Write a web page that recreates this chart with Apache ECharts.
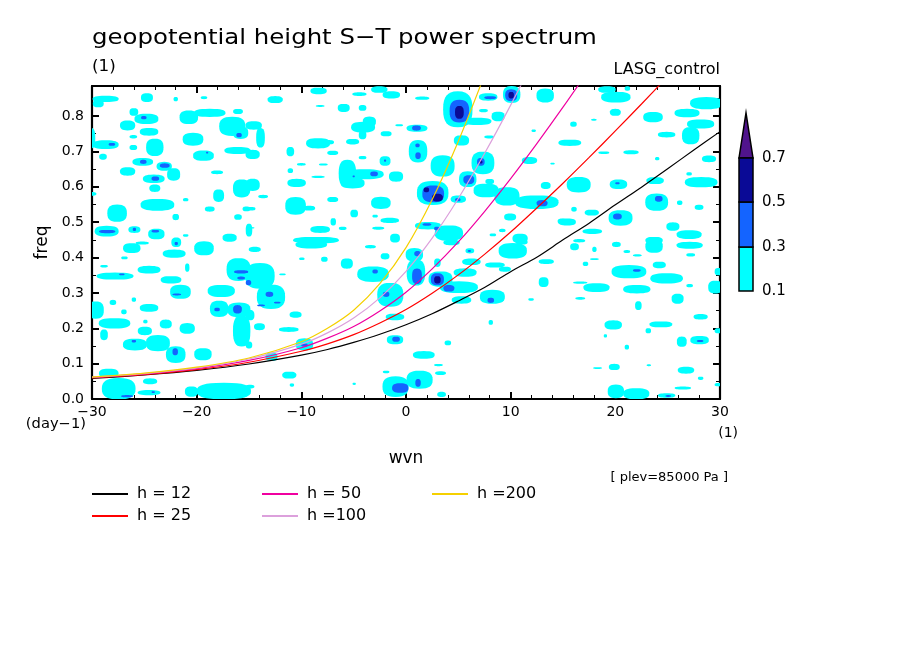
<!DOCTYPE html>
<html><head><meta charset="utf-8">
<script src="https://cdn.jsdelivr.net/npm/echarts@6/dist/echarts.min.js"></script>
<style>html,body{margin:0;padding:0;background:#fff}#c{width:904px;height:654px}</style>
</head><body><div id="c"></div>
<script>
// ---- data ----
const xTickLabels = [-30,-20,-10,0,10,20,30];
const colorLevels = ['0.1','0.3','0.5','0.7'];
const levelColors = ['#00FFFF','#1464FF','#0A0A96','#50148C'];

// dispersion curves [wvn, freq]
const h12 = [[-30,0.058],[-25,0.068],[-20,0.081],[-15,0.099],[-10,0.124],[-7.5,0.140],[-5,0.160],[-2.5,0.183],[0,0.210],[2.5,0.241],[5,0.277],[7.5,0.315],[10,0.360],[12.5,0.401],[15,0.450],[17.5,0.497],[20,0.549],[22.5,0.599],[25,0.651],[27.5,0.704],[30,0.756]];
const h25 = [[-30,0.060],[-25,0.069],[-20,0.083],[-15,0.104],[-10,0.135],[-7.5,0.156],[-5,0.182],[-2.5,0.215],[0,0.253],[2.5,0.299],[5,0.351],[7.5,0.409],[10,0.472],[12.5,0.540],[15,0.610],[17.5,0.683],[20,0.758],[22.5,0.834],[25,0.912]];
const h50 = [[-30,0.061],[-25,0.071],[-20,0.086],[-15,0.109],[-10,0.145],[-7.5,0.172],[-5,0.205],[-2.5,0.249],[0,0.302],[2.5,0.368],[5,0.444],[7.5,0.530],[10,0.623],[12.5,0.722],[15,0.825],[17.5,0.932]];
const h100 = [[-30,0.062],[-25,0.072],[-20,0.088],[-15,0.113],[-10,0.155],[-7.5,0.187],[-5,0.229],[-2.5,0.286],[0,0.361],[2.5,0.455],[5,0.567],[7.5,0.694],[10,0.831],[12.5,0.976]];
const h200 = [[-30,0.062],[-25,0.073],[-20,0.090],[-15,0.116],[-10,0.162],[-7.5,0.200],[-5,0.251],[-2.5,0.326],[0,0.428],[2.5,0.564],[5,0.729],[7.5,0.916],[10,1.117]];

// power regions [wvnFrom, wvnTo, freqFrom, freqTo]
const cyanCells = [
[-29.9,-27.5,0.84,0.857],[-29.9,-28.9,0.825,0.845],[-25.3,-24.2,0.84,0.864],[-22.2,-21.8,0.842,0.854],[-19.6,-19.0,0.848,0.856],
[-26.4,-25.6,0.801,0.822],[-21.6,-19.9,0.778,0.815],[-20.2,-17.3,0.798,0.82],[-16.5,-15.6,0.806,0.82],[-25.9,-23.7,0.778,0.806],
[-27.3,-25.9,0.76,0.787],[-17.8,-15.4,0.745,0.797],[-16.5,-15.1,0.736,0.77],[-25.4,-23.7,0.745,0.766],[-21.3,-19.4,0.717,0.752],
[-26.4,-25.7,0.737,0.746],[-30.4,-29.7,0.71,0.765],[-29.9,-27.5,0.707,0.731],[-24.8,-23.2,0.688,0.735],[-26.4,-25.7,0.704,0.718],
[-20.3,-18.4,0.674,0.702],[-17.3,-14.9,0.693,0.712],[-29.3,-28.6,0.677,0.693],[-26.1,-24.2,0.66,0.681],[-23.8,-22.4,0.646,0.67],
[-22.8,-21.6,0.618,0.652],[-27.3,-25.9,0.632,0.655],[-18.6,-17.5,0.636,0.646],[-25.1,-23.1,0.611,0.634],[-24.5,-23.5,0.586,0.606],
[-16.5,-14.9,0.571,0.62],[-30.4,-29.6,0.575,0.585],[-18.4,-17.4,0.558,0.592],[-25.3,-22.2,0.533,0.565],[-21.3,-20.8,0.559,0.568],
[-19.2,-18.3,0.53,0.544],[-15.6,-14.9,0.531,0.544],[-28.5,-26.7,0.502,0.549],[-22.3,-21.7,0.506,0.523],[-16.4,-15.7,0.507,0.522],
[-29.7,-27.5,0.46,0.489],[-26.5,-25.4,0.47,0.488],[-24.6,-23.1,0.452,0.481],[-17.5,-16.2,0.445,0.467],[-22.4,-21.5,0.43,0.456],
[-21.3,-20.8,0.459,0.466],[-15.3,-14.7,0.46,0.495],[-25.8,-24.6,0.437,0.445],
[-9.1,-7.6,0.862,0.88],[-3.3,-1.8,0.866,0.884],[-2.2,-0.6,0.85,0.87],[-5.1,-3.8,0.857,0.867],[-13.2,-11.8,0.837,0.856],
[-8.6,-7.8,0.826,0.831],[-6.5,-5.4,0.812,0.834],[-4.5,-3.8,0.815,0.831],[-4.1,-2.9,0.77,0.798],[-5.2,-3.0,0.754,0.783],
[-4.5,-3.8,0.735,0.758],[-15.3,-13.8,0.762,0.785],[-14.3,-13.5,0.712,0.765],[-1.0,-0.3,0.771,0.777],[-2.4,-1.4,0.743,0.757],
[-9.5,-7.3,0.709,0.737],[-8.0,-6.9,0.72,0.732],[-5.7,-4.5,0.72,0.735],[-11.4,-10.7,0.687,0.712],[-7.5,-6.5,0.69,0.702],
[-15.3,-14.0,0.679,0.704],[-4.5,-3.8,0.678,0.687],[-2.5,-1.5,0.66,0.686],[-10.4,-9.6,0.66,0.667],[-8.3,-7.5,0.66,0.666],
[-11.3,-10.8,0.639,0.652],[-6.4,-4.8,0.6,0.675],[-5.7,-2.2,0.622,0.649],[-6.2,-4.0,0.596,0.625],[-1.6,-0.3,0.615,0.643],
[-15.3,-14.0,0.589,0.622],[-11.3,-9.6,0.6,0.622],[-9.0,-7.8,0.625,0.631],[-14.1,-13.2,0.568,0.577],[-11.5,-9.6,0.522,0.57],
[-9.8,-8.7,0.533,0.546],[-7.5,-6.5,0.557,0.571],[-3.3,-1.5,0.538,0.571],[-15.3,-14.4,0.533,0.543],[-5.3,-4.6,0.514,0.535],
[-3.2,-2.7,0.513,0.521],[-2.4,-0.7,0.498,0.512],[-7.2,-6.7,0.491,0.511],[-9.1,-7.3,0.47,0.489],[-6.4,-5.7,0.478,0.487],
[-3.2,-2.1,0.479,0.487],[-15.1,-14.5,0.482,0.486],[-1.5,-0.6,0.443,0.467],[-10.7,-6.5,0.44,0.458],[-10.5,-7.6,0.426,0.447],
[0.9,2.2,0.846,0.855],[3.6,6.3,0.77,0.868],[5.5,8.1,0.775,0.795],[8.2,9.4,0.786,0.812],[7.0,8.7,0.844,0.864],
[9.3,10.9,0.838,0.884],[12.5,14.1,0.839,0.877],[0.1,2.0,0.756,0.775],[0.3,2.0,0.67,0.731],[4.6,6.0,0.717,0.745],
[2.4,4.6,0.63,0.688],[6.3,8.4,0.637,0.698],[5.1,6.7,0.6,0.643],[7.6,8.4,0.608,0.622],[12.9,13.8,0.594,0.613],
[1.1,4.0,0.55,0.615],[4.3,5.7,0.555,0.575],[6.5,8.8,0.571,0.608],[8.5,10.8,0.548,0.598],[10.5,14.5,0.538,0.575],
[9.4,10.5,0.505,0.524],[14.5,15.3,0.495,0.51],[0.9,3.3,0.48,0.5],[2.8,5.4,0.448,0.49],[10.2,11.6,0.441,0.467],
[8.0,8.6,0.46,0.468],[8.9,9.5,0.472,0.481],[7.5,8.4,0.737,0.745],[12.0,12.4,0.755,0.762],[13.8,14.2,0.663,0.668],
[11.1,12.5,0.665,0.684],[7.0,7.8,0.811,0.82],
[18.4,20.0,0.866,0.884],[18.7,21.4,0.839,0.868],[20.9,21.4,0.872,0.884],[25.7,28.0,0.797,0.82],[27.2,30.2,0.82,0.853],
[19.5,20.5,0.801,0.82],[22.7,24.5,0.783,0.811],[15.7,16.3,0.77,0.784],[17.7,18.2,0.787,0.792],[26.9,29.4,0.765,0.79],
[26.4,28.0,0.721,0.768],[24.1,25.7,0.74,0.755],[14.6,16.7,0.716,0.733],[18.4,19.4,0.693,0.7],[20.8,22.2,0.692,0.703],
[23.8,24.2,0.675,0.684],[26.8,27.3,0.632,0.641],[28.3,29.6,0.67,0.688],[15.4,17.6,0.585,0.627],[19.5,21.1,0.594,0.62],
[23.0,24.6,0.608,0.627],[26.7,29.7,0.599,0.627],[22.9,25.0,0.533,0.58],[25.9,26.4,0.549,0.561],[27.6,28.4,0.535,0.549],
[15.8,16.3,0.53,0.543],[17.1,18.4,0.519,0.535],[19.4,21.6,0.491,0.533],[14.6,16.2,0.491,0.51],[16.9,18.7,0.467,0.481],
[24.9,26.1,0.476,0.499],[25.9,28.2,0.453,0.477],[22.9,24.5,0.439,0.458],[16.0,17.1,0.443,0.452],
[-27.0,-25.4,0.413,0.44],[-23.2,-21.1,0.4,0.422],[-20.2,-18.4,0.407,0.445],[-27.2,-26.6,0.395,0.403],[-29.2,-28.5,0.372,0.379],
[-25.6,-23.5,0.355,0.376],[-21.1,-20.7,0.36,0.383],[-29.5,-26.1,0.338,0.357],[-23.4,-21.5,0.327,0.347],[-17.1,-14.9,0.335,0.397],
[-22.5,-20.6,0.284,0.322],[-18.9,-16.4,0.289,0.322],[-30.4,-28.9,0.228,0.275],[-28.3,-27.7,0.266,0.28],[-27.2,-26.7,0.24,0.253],
[-26.2,-25.8,0.275,0.287],[-25.4,-23.7,0.247,0.268],[-18.7,-17.0,0.233,0.277],[-17.0,-14.9,0.232,0.272],[-16.5,-14.9,0.15,0.235],
[-29.3,-26.4,0.2,0.228],[-29.2,-28.5,0.167,0.196],[-25.1,-24.7,0.214,0.224],[-23.5,-22.4,0.2,0.224],[-21.6,-20.2,0.185,0.214],
[-25.6,-24.3,0.181,0.204],[-27.0,-24.8,0.138,0.17],[-24.8,-22.6,0.136,0.18],[-22.9,-21.1,0.103,0.148],[-20.2,-18.6,0.11,0.143],
[-29.3,-27.5,0.06,0.085],[-29.0,-25.9,0.0,0.058],[-25.1,-23.8,0.042,0.058],[-25.6,-23.5,0.011,0.025],[-19.9,-14.9,0.0,0.045],
[-21.1,-19.9,0.007,0.035],
[-15.0,-13.9,0.416,0.43],[-3.9,-2.9,0.426,0.435],[-2.4,-1.6,0.395,0.412],[-8.1,-7.5,0.388,0.402],[-10.2,-9.7,0.393,0.4],
[-6.2,-5.1,0.369,0.397],[-15.3,-12.6,0.313,0.383],[-12.1,-11.5,0.35,0.355],[-4.6,-1.7,0.332,0.374],[-14.2,-11.6,0.256,0.322],
[-2.7,-0.3,0.262,0.327],[-11.1,-10.0,0.23,0.247],[-15.3,-14.5,0.223,0.251],[-14.5,-13.5,0.195,0.214],[-12.1,-10.3,0.19,0.203],
[-1.9,-0.2,0.223,0.241],[-1.8,-0.3,0.155,0.18],[-10.5,-8.9,0.138,0.171],[-15.3,-14.7,0.143,0.162],[-13.4,-12.3,0.108,0.131],
[-11.8,-10.5,0.058,0.077],[-11.1,-10.7,0.035,0.044],[-15.3,-14.5,0.03,0.04],[-5.1,-4.8,0.04,0.046],[-2.2,0.2,0.007,0.063],
[-2.2,-1.6,0.073,0.08],
[0.0,1.6,0.39,0.426],[0.1,1.8,0.322,0.393],[2.2,4.4,0.318,0.36],[3.3,6.8,0.3,0.332],[2.7,3.3,0.374,0.397],
[4.6,6.7,0.346,0.369],[5.4,7.1,0.379,0.397],[5.7,6.5,0.412,0.426],[3.6,5.1,0.435,0.45],[8.9,11.5,0.398,0.44],
[10.5,11.6,0.437,0.45],[7.6,9.4,0.372,0.386],[8.9,10.0,0.36,0.374],[12.7,14.1,0.382,0.395],[7.1,9.4,0.27,0.308],
[4.4,6.2,0.27,0.29],[12.7,13.6,0.317,0.344],[11.7,12.2,0.278,0.285],[7.9,8.3,0.21,0.223],[3.7,4.3,0.152,0.165],
[0.7,2.7,0.114,0.135],[2.7,3.5,0.093,0.099],[2.8,3.8,0.068,0.078],[0.1,2.5,0.03,0.079],[3.0,3.8,0.006,0.02],
[15.7,16.5,0.421,0.44],[17.8,18.2,0.416,0.43],[19.7,20.5,0.43,0.444],[20.8,21.4,0.413,0.421],[21.7,22.5,0.403,0.409],
[22.9,24.5,0.414,0.45],[25.9,28.3,0.425,0.444],[26.8,27.6,0.403,0.412],[16.9,17.4,0.376,0.388],[17.6,18.4,0.393,0.398],
[19.7,22.9,0.342,0.378],[23.6,24.8,0.37,0.388],[23.4,26.4,0.327,0.355],[29.5,30.2,0.35,0.37],[16.0,17.3,0.326,0.332],
[17.0,19.4,0.303,0.327],[20.8,23.3,0.299,0.322],[26.8,27.4,0.316,0.325],[28.9,30.2,0.299,0.334],[25.4,26.5,0.27,0.297],
[16.2,17.1,0.281,0.288],[21.9,22.5,0.252,0.276],[27.5,28.8,0.225,0.24],[19.0,20.6,0.197,0.222],[23.3,25.4,0.203,0.219],
[22.9,23.4,0.186,0.2],[29.5,30.2,0.186,0.2],[18.9,19.2,0.174,0.183],[25.9,26.8,0.148,0.176],[27.2,28.9,0.155,0.178],
[20.9,21.3,0.14,0.153],[19.4,20.4,0.082,0.099],[17.9,18.7,0.085,0.09],[23.0,23.4,0.093,0.098],[26.0,27.5,0.072,0.091],
[27.9,28.4,0.054,0.063],[25.7,27.2,0.027,0.035],[19.3,20.8,0.003,0.04],[20.8,23.2,0.0,0.03],[24.1,25.7,0.004,0.016],
[29.5,30.2,0.036,0.045]
];
const blueCells = [
[-25.3,-24.8,0.791,0.8],[-16.2,-15.7,0.74,0.752],[-28.4,-27.8,0.716,0.724],[-19.1,-18.9,0.694,0.699],[-25.4,-24.8,0.665,0.676],
[-23.5,-22.6,0.654,0.666],[-24.3,-23.6,0.617,0.629],[-29.3,-27.8,0.469,0.478],[-26.1,-25.8,0.475,0.484],[-24.3,-23.6,0.471,0.478],
[-2.1,-1.9,0.671,0.677],[-3.4,-2.7,0.63,0.643],[-5.1,-4.9,0.627,0.632],
[4.2,6.0,0.783,0.845],[7.5,8.6,0.848,0.856],[9.5,10.6,0.843,0.875],[0.6,1.4,0.759,0.773],[0.9,1.3,0.712,0.722],
[0.9,1.4,0.679,0.697],[6.8,7.5,0.66,0.681],[5.5,6.5,0.608,0.632],[1.6,3.6,0.557,0.603],[4.7,5.2,0.559,0.568],
[12.5,13.5,0.545,0.562],[1.6,2.4,0.49,0.497],[2.7,3.2,0.477,0.487],
[20.0,20.4,0.607,0.613],[23.8,24.5,0.558,0.574],[19.8,20.6,0.508,0.524],
[-22.1,-21.8,0.435,0.444],[-27.4,-26.9,0.35,0.355],[-16.4,-15.1,0.355,0.364],[-16.1,-15.4,0.338,0.346],[-22.3,-21.5,0.293,0.298],
[-18.3,-17.8,0.248,0.258],[-16.5,-15.7,0.242,0.265],[-26.2,-25.8,0.16,0.167],[-22.3,-21.8,0.124,0.143],[-27.2,-26.1,0.005,0.011],
[-24.3,-24.0,0.017,0.022],
[-15.3,-14.8,0.322,0.336],[-3.2,-2.7,0.355,0.366],[-13.4,-12.7,0.289,0.303],[-12.6,-12.0,0.27,0.275],[-14.2,-13.5,0.262,0.267],
[-2.2,-1.6,0.289,0.303],[-1.3,-0.6,0.162,0.176],[-10.0,-9.4,0.148,0.157],[-1.3,0.2,0.018,0.044],
[0.8,1.4,0.404,0.418],[0.6,1.5,0.326,0.368],[2.4,3.6,0.322,0.355],[3.6,4.6,0.304,0.322],[7.8,8.4,0.272,0.286],
[0.9,1.4,0.035,0.056],[5.9,6.2,0.416,0.421],
[21.7,22.4,0.36,0.367],[27.8,28.4,0.161,0.167],[24.8,25.3,0.006,0.011]
];
const navyCells = [
[4.7,5.5,0.793,0.828],[9.8,10.3,0.85,0.868],[7.0,7.3,0.666,0.674],[2.5,3.5,0.559,0.58],[1.7,2.2,0.585,0.598],[2.7,3.3,0.327,0.347]
];

// ---- chart ----
const FONT = '"DejaVu Sans", sans-serif';
const X0 = 92, X1 = 720, Y0 = 86, Y1 = 399;
const chart = echarts.init(document.getElementById('c'), null, {renderer: 'canvas'});

function cellSeries(data, color) {
  return {
    type: 'custom', data: data, clip: true, silent: true, z: 1,
    encode: {x: [0, 1], y: [2, 3]},
    renderItem: function (params, api) {
      const a = api.coord([api.value(0), api.value(3)]);
      const b = api.coord([api.value(1), api.value(2)]);
      const cx = (a[0] + b[0]) / 2, cy = (a[1] + b[1]) / 2;
      const rx = Math.abs(b[0] - a[0]) / 2 * 1.04, ry = Math.abs(b[1] - a[1]) / 2 * 1.04;
      const pts = [], n = 2 / 2.6;
      for (let i = 0; i < 32; i++) {
        const t = i / 32 * Math.PI * 2, c = Math.cos(t), s = Math.sin(t);
        pts.push([cx + rx * Math.sign(c) * Math.pow(Math.abs(c), n), cy + ry * Math.sign(s) * Math.pow(Math.abs(s), n)]);
      }
      return {type: 'polygon', shape: {points: pts}, style: {fill: color, stroke: null}};
    }
  };
}
function curve(name, data, color) {
  return {name: name, type: 'line', data: data, symbol: 'none', smooth: 0.3,
    clip: true, z: 5, silent: true, lineStyle: {color: color, width: 1.2}, itemStyle: {color: color}};
}
const axisTickCommon = {show: true, inside: true, length: 7, lineStyle: {color: '#000', width: 2}};
const minorCommon = {show: true, length: 4, lineStyle: {color: '#000', width: 1}};
const lineCommon = {show: true, onZero: false, lineStyle: {color: '#000', width: 2.2}};
const legendCommon = {orient: 'vertical', top: 486, icon: 'rect', itemWidth: 36, itemHeight: 2, itemGap: 6,
  selectedMode: false, textStyle: {fontSize: 16, color: '#000', fontFamily: FONT, lineHeight: 16, padding: [0, 0, 0, 4]}, padding: 0};

function txt(text, x, y, size, align, valign, sx) {
  return {type: 'text', x: x, y: y, z: 100, scaleX: sx || 1, style: {text: text, fontSize: size, fontFamily: FONT, fill: '#000',
    align: align, verticalAlign: valign, textAlign: align, textVerticalAlign: valign}};
}
const cbX = 739, cbW = 14, cbTops = [247, 202, 158], cbBottoms = [291, 247, 202];
const graphics = [
  txt('geopotential height S\u2212T power spectrum', 92, 38, 22, 'left', 'middle', 1.11),
  txt('(1)', 92, 67, 16, 'left', 'middle', 1.05),
  txt('LASG_control', 720, 70, 15, 'right', 'middle', 1.07),
  txt('(day\u22121)', 86, 424, 14, 'right', 'middle', 1.05),
  txt('(1)', 738, 433, 14, 'right', 'middle'),
  txt('[ plev=85000 Pa ]', 728, 478, 13, 'right', 'middle'),
  {type: 'polygon', z: 100, shape: {points: [[cbX, 158], [cbX + cbW / 2, 113], [cbX + cbW, 158]]},
    style: {fill: levelColors[3], stroke: '#000', lineWidth: 1.5}}
];
for (let i = 0; i < 3; i++) {
  graphics.push({type: 'rect', z: 100, shape: {x: cbX, y: cbTops[i], width: cbW, height: cbBottoms[i] - cbTops[i]},
    style: {fill: levelColors[i], stroke: '#000', lineWidth: 1.5}});
}
const cbLabelY = [291, 247, 202, 158];
colorLevels.forEach(function (t, i) { graphics.push(txt(t, 762, cbLabelY[i], 15, 'left', 'middle')); });

chart.setOption({
  backgroundColor: '#fff',
  animation: false,
  grid: {left: X0, right: 904 - X1, top: Y0, bottom: 654 - Y1, containLabel: false, show: false},
  xAxis: [
    {type: 'value', min: -30, max: 30, interval: 10, position: 'bottom',
      axisLine: lineCommon, axisTick: axisTickCommon, minorTick: Object.assign({splitNumber: 5}, minorCommon),
      splitLine: {show: false}, minorSplitLine: {show: false},
      axisLabel: {show: true, margin: 6, fontSize: 14, color: '#000', fontFamily: FONT,
        formatter: function (v) { return v < 0 ? '\u2212' + (-v) : String(v); }},
      name: 'wvn', nameLocation: 'middle', nameGap: 51, nameTextStyle: {fontSize: 17, color: '#000', fontFamily: FONT}},
    {type: 'value', min: -30, max: 30, interval: 10, position: 'top',
      axisLine: lineCommon, axisTick: axisTickCommon, minorTick: Object.assign({splitNumber: 5}, minorCommon),
      splitLine: {show: false}, axisLabel: {show: false}}
  ],
  yAxis: [
    {type: 'value', min: 0, max: 0.885, interval: 0.1, position: 'left',
      axisLine: lineCommon, axisTick: axisTickCommon, minorTick: Object.assign({splitNumber: 2}, minorCommon),
      splitLine: {show: false}, minorSplitLine: {show: false},
      axisLabel: {show: true, margin: 8, fontSize: 14, color: '#000', fontFamily: FONT, showMaxLabel: false,
        formatter: function (v) { return v.toFixed(1); }},
      name: 'freq', nameLocation: 'middle', nameGap: 41, nameRotate: 90,
      nameTextStyle: {fontSize: 17, color: '#000', fontFamily: FONT}},
    {type: 'value', min: 0, max: 0.885, interval: 0.1, position: 'right',
      axisLine: lineCommon, axisTick: axisTickCommon, minorTick: Object.assign({splitNumber: 2}, minorCommon),
      splitLine: {show: false}, axisLabel: {show: false}}
  ],
  legend: [
    Object.assign({data: ['h = 12', 'h = 25'], left: 92}, legendCommon),
    Object.assign({data: ['h = 50', 'h =100'], left: 262}, legendCommon),
    Object.assign({data: ['h =200'], left: 432}, legendCommon)
  ],
  graphic: graphics,
  series: [
    cellSeries(cyanCells, levelColors[0]),
    cellSeries(blueCells, levelColors[1]),
    cellSeries(navyCells, levelColors[2]),
    curve('h = 12', h12, '#000000'),
    curve('h = 25', h25, '#FF0000'),
    curve('h = 50', h50, '#F000A0'),
    curve('h =100', h100, '#DCA0DC'),
    curve('h =200', h200, '#F5D000')
  ]
});
</script>
</body></html>
